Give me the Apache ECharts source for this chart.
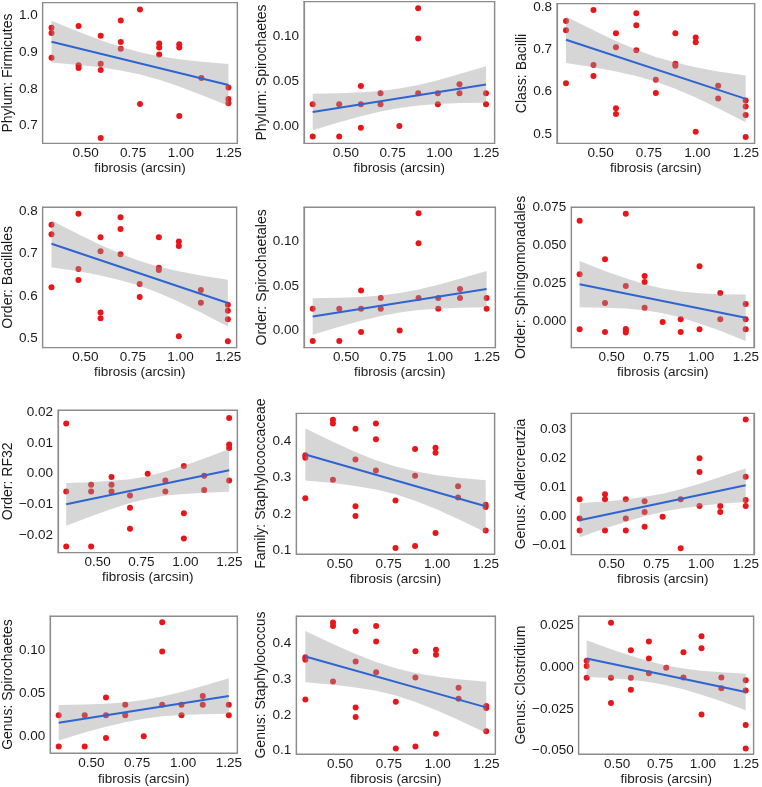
<!DOCTYPE html>
<html><head><meta charset="utf-8">
<script src="https://cdn.jsdelivr.net/npm/echarts@6/dist/echarts.min.js"></script>
<style>html,body{margin:0;padding:0;background:#fff}#c{width:762px;height:787px}</style>
</head><body><div id="c"></div>
<script>
// fibrosis (arcsin) levels shared by all panels (also where the band was read)
const fibrosisLevels = [0.3218, 0.4636, 0.5796, 0.6847, 0.7854, 0.8861, 0.9912, 1.1071, 1.2490];
const fitX = [0.3218, 1.2490];
const xTicks = [0.5, 0.75, 1.0, 1.25];

// ---- points, grouped by fibrosis level ----
const firmicutes = [[0.967,0.953,0.885],[0.972,0.865,0.857],[0.945,0.869,0.852,0.666],[0.987,0.928,0.910],[1.017,0.759],[0.924,0.913,0.894],[0.922,0.913,0.726],[0.830],[0.804,0.773,0.761]];
const spirochaetes = [[0.0243,-0.0119],[0.0243,-0.0119],[0.0448,0.0243,-0.0019],[0.0366,0.0243],[0.0],[0.132,0.0981,0.0366],[0.0366,0.0243],[0.0466,0.0366],[0.0366,0.0243]];
const bacilli = [[0.767,0.745,0.620],[0.793,0.663,0.637],[0.738,0.705,0.561,0.547],[0.785,0.757,0.698],[0.628,0.597],[0.738,0.666,0.661],[0.728,0.717,0.505],[0.614,0.584],[0.579,0.565,0.545,0.493]];
const sphingomonadales = [[0.0664,0.0310,-0.0053],[0.0409,0.0121,-0.0070],[0.0710,0.0233,-0.0051,-0.0062,-0.0073],[0.0299,0.0260,0.0090],[-0.0004],[0.0013,-0.0070],[0.0363,-0.0053],[0.0187,0.0013],[0.0114,0.0013,-0.0053]];
const rf32 = [[0.0164,-0.0058,-0.0238],[-0.0036,-0.0058,-0.0238],[-0.0011,-0.0036,-0.0058],[-0.0071,-0.0111,-0.0180],[0.0],[-0.0022,-0.0058],[0.0025,-0.0129,-0.0212],[-0.0007,-0.0053],[0.0182,0.0095,0.0084,-0.0022]];
const staphylococcus = [[0.362,0.355,0.243],[0.460,0.450,0.294],[0.435,0.350,0.221,0.194],[0.450,0.406,0.320],[0.237,0.1055],[0.379,0.305,0.111],[0.383,0.369,0.147],[0.276,0.245],[0.225,0.219,0.154]];
const adlercreutzia = [[0.0059,-0.0007,-0.0048],[0.0076,0.0059,-0.0048],[0.0059,-0.0007,-0.0048],[0.0052,0.0015,-0.0035],[-0.0001],[0.0059,-0.0109],[0.0199,0.0152,0.0036],[0.0036,0.0015],[0.0332,0.0136,0.0056,0.0036]];
const clostridium = [[0.0039,0.0008,-0.0063],[0.0267,-0.0063,-0.0214],[0.0102,-0.0063,-0.0134],[0.0155,0.0053,-0.0035],[-0.0002],[0.0090,-0.0061],[0.0187,0.0114,-0.0283],[-0.0061,-0.0126],[-0.0077,-0.0139,-0.0346,-0.0487]];

// ---- fitted line ends and band edges at each fibrosis level ----
const firmicutesFit = [0.929, 0.811];
const firmicutesUpper = [0.986, 0.9562, 0.9333, 0.9149, 0.9003, 0.8893, 0.8809, 0.8743, 0.868];
const firmicutesLower = [0.872, 0.8658, 0.8591, 0.8507, 0.8397, 0.8251, 0.8067, 0.7839, 0.754];
const spirochaetesFit = [0.0157, 0.0465];
const spirochaetesUpper = [0.0362, 0.0367, 0.0377, 0.0393, 0.0420, 0.0460, 0.0513, 0.0581, 0.0670];
const spirochaetesLower = [-0.0048, 0.0042, 0.0109, 0.0163, 0.0202, 0.0230, 0.0245, 0.0256, 0.0260];
const bacilliFit = [0.7225, 0.583];
const bacilliUpper = [0.7775, 0.7448, 0.7195, 0.6989, 0.6821, 0.6686, 0.6576, 0.6479, 0.638];
const bacilliLower = [0.6675, 0.6576, 0.6479, 0.6369, 0.6235, 0.6066, 0.5860, 0.5607, 0.528];
const sphingomonadalesFit = [0.0245, 0.0024];
const sphingomonadalesUpper = [0.0398, 0.0332, 0.0284, 0.0245, 0.0216, 0.0197, 0.0185, 0.0179, 0.0177];
const sphingomonadalesLower = [0.0092, 0.0090, 0.0084, 0.0073, 0.0054, 0.0025, -0.0015, -0.0063, -0.0129];
const rf32Fit = [-0.0100, 0.0011];
const rf32Upper = [-0.0030, -0.0028, -0.0023, -0.0018, -0.0008, 0.0007, 0.0026, 0.0050, 0.0081];
const rf32Lower = [-0.0170, -0.0139, -0.0115, -0.0096, -0.0082, -0.0071, -0.0066, -0.0062, -0.0059];
const staphylococcusFit = [0.364, 0.221];
const staphylococcusUpper = [0.436, 0.3992, 0.3711, 0.3485, 0.3308, 0.3175, 0.3077, 0.3000, 0.293];
const staphylococcusLower = [0.292, 0.2850, 0.2773, 0.2675, 0.2542, 0.2365, 0.2139, 0.1858, 0.149];
const adlercreutziaFit = [-0.0013, 0.0107];
const adlercreutziaUpper = [0.0045, 0.0051, 0.0058, 0.0067, 0.0078, 0.0093, 0.0112, 0.0135, 0.0165];
const adlercreutziaLower = [-0.0071, -0.0041, -0.0018, 0.0001, 0.0016, 0.0027, 0.0036, 0.0043, 0.0049];
const clostridiumFit = [0.0053, -0.0148];
const clostridiumUpper = [0.0163, 0.0109, 0.0069, 0.0036, 0.0011, -0.0007, -0.0020, -0.0030, -0.0038];
const clostridiumLower = [-0.0057, -0.0065, -0.0075, -0.0088, -0.0107, -0.0131, -0.0164, -0.0204, -0.0258];

// ---- y tick labels ----
const firmicutesTicks = [0.7, 0.8, 0.9, 1.0];
const spirochaetesTicks = [0.00, 0.05, 0.10];
const bacilliTicks = [0.5, 0.6, 0.7, 0.8];
const sphingomonadalesTicks = [0.000, 0.025, 0.050, 0.075];
const rf32Ticks = [-0.02, -0.01, 0.00, 0.01, 0.02];
const staphylococcusTicks = [0.1, 0.2, 0.3, 0.4];
const adlercreutziaTicks = [-0.01, 0.00, 0.01, 0.02, 0.03];
const clostridiumTicks = [-0.050, -0.025, 0.000, 0.025];

const sets = {
  firmicutes: [firmicutes, firmicutesFit, firmicutesUpper, firmicutesLower, firmicutesTicks, 1],
  spirochaetes: [spirochaetes, spirochaetesFit, spirochaetesUpper, spirochaetesLower, spirochaetesTicks, 2],
  bacilli: [bacilli, bacilliFit, bacilliUpper, bacilliLower, bacilliTicks, 1],
  sphingomonadales: [sphingomonadales, sphingomonadalesFit, sphingomonadalesUpper, sphingomonadalesLower, sphingomonadalesTicks, 3],
  rf32: [rf32, rf32Fit, rf32Upper, rf32Lower, rf32Ticks, 2],
  staphylococcus: [staphylococcus, staphylococcusFit, staphylococcusUpper, staphylococcusLower, staphylococcusTicks, 1],
  adlercreutzia: [adlercreutzia, adlercreutziaFit, adlercreutziaUpper, adlercreutziaLower, adlercreutziaTicks, 2],
  clostridium: [clostridium, clostridiumFit, clostridiumUpper, clostridiumLower, clostridiumTicks, 3]
};

// layout: [left, top, width, height], y range, y-name gap, x-name gap
const panels = [
  {t:'Phylum: Firmicutes', s:'firmicutes', g:[37.3,2.7,200,140.6], y:[0.6518,1.0355], yg:20, xg:17},
  {t:'Phylum: Spirochaetes', s:'spirochaetes', g:[304,1.7,190.7,141.6], y:[-0.0194,0.1392], yg:30, xg:16},
  {t:'Class: Bacilli', s:'bacilli', g:[557,1.7,197.7,141.6], y:[0.478,0.808], yg:25, xg:16},
  {t:'Order: Bacillales', s:'bacilli', g:[37.3,207,199.4,140.7], y:[0.478,0.809], yg:23, xg:16},
  {t:'Order: Spirochaetales', s:'spirochaetes', g:[304,207,191.3,140.7], y:[-0.0195,0.139], yg:31, xg:16},
  {t:'Order: Sphingomonadales', s:'sphingomonadales', g:[571.3,207,183.4,140.7], y:[-0.0174,0.0754], yg:38, xg:16},
  {t:'Order: RF32', s:'rf32', g:[52.7,410,184.6,142.7], y:[-0.0258,0.0208], yg:39, xg:16},
  {t:'Family: Staphylococcaceae', s:'staphylococcus', g:[296.3,413.3,198.4,140.7], y:[0.089,0.478], yg:23, xg:16},
  {t:'Genus: Adlercreutzia', s:'adlercreutzia', g:[571.3,413.3,183.4,141.4], y:[-0.0131,0.0353], yg:40, xg:16},
  {t:'Genus: Spirochaetes', s:'spirochaetes', g:[45.7,616,191.6,139.3], y:[-0.0194,0.1392], yg:32, xg:19},
  {t:'Genus: Staphylococcus', s:'staphylococcus', g:[296.3,616,199,140.7], y:[0.090,0.478], yg:23, xg:18},
  {t:'Genus: Clostridium', s:'clostridium', g:[578.7,616,176,140.7], y:[-0.052,0.0308], yg:45, xg:18}
];

const FONT = '"Liberation Sans", Arial, sans-serif';
const TXT = '#1a1a1a';
const FRAME = {show:true, onZero:false, lineStyle:{color:'#8c8c8c', width:1.2}};
const X_RANGE = [0.2754, 1.2954];
function fmt(v, d) {
  const s = Math.abs(v).toFixed(d);
  return (v < 0 && Number(s) !== 0) ? '\u2212' + s : s;
}

const option = {animation:false, backgroundColor:'#fff', grid:[], xAxis:[], yAxis:[], series:[]};
panels.forEach((p, i) => {
  const [pts, fit, up, lo, ticks, dig] = sets[p.s];
  option.grid.push({left:p.g[0], top:p.g[1], width:p.g[2], height:p.g[3], show:true,
    borderColor:'#8c8c8c', borderWidth:1.2, backgroundColor:'transparent'});
  option.xAxis.push({type:'value', gridIndex:i, position:'bottom', min:X_RANGE[0], max:X_RANGE[1],
    name:'fibrosis (arcsin)', nameLocation:'middle', nameGap:p.xg,
    nameTextStyle:{fontFamily:FONT, fontSize:13.5, color:TXT},
    axisLine:FRAME, axisTick:{show:false}, splitLine:{show:false},
    axisLabel:{customValues:xTicks, formatter:v=>fmt(v,2), margin:3, fontFamily:FONT, fontSize:13.5, color:TXT}});
  option.xAxis.push({type:'value', gridIndex:i, position:'top', min:X_RANGE[0], max:X_RANGE[1],
    axisLine:FRAME, axisTick:{show:false}, splitLine:{show:false}, axisLabel:{show:false}});
  option.yAxis.push({type:'value', gridIndex:i, position:'left', min:p.y[0], max:p.y[1],
    name:p.t, nameLocation:'middle', nameGap:p.yg,
    nameTextStyle:{fontFamily:FONT, fontSize:14, color:TXT},
    axisLine:FRAME, axisTick:{show:false}, splitLine:{show:false},
    axisLabel:{customValues:ticks, formatter:v=>fmt(v,dig), margin:5, fontFamily:FONT, fontSize:13.5, color:TXT}});
  option.yAxis.push({type:'value', gridIndex:i, position:'right', min:p.y[0], max:p.y[1],
    axisLine:FRAME, axisTick:{show:false}, splitLine:{show:false}, axisLabel:{show:false}});
  const xi = 2*i, yi = 2*i;
  const scatterData = [];
  pts.forEach((ys, k) => ys.forEach(y => scatterData.push([fibrosisLevels[k], y])));
  option.series.push({type:'scatter', xAxisIndex:xi, yAxisIndex:yi, data:scatterData,
    symbolSize:6, itemStyle:{color:'#e8161b', opacity:1}, z:2, silent:true});
  option.series.push({type:'custom', xAxisIndex:xi, yAxisIndex:yi, z:3, silent:true,
    data:fibrosisLevels.map((x,k)=>[x, lo[k], up[k]]),
    encode:{x:0, y:[1,2]},
    renderItem:(params, api) => {
      if (params.dataIndex !== 0) return null;
      const top = fibrosisLevels.map((x,k)=>api.coord([x, up[k]]));
      const bot = fibrosisLevels.map((x,k)=>api.coord([x, lo[k]])).reverse();
      return {type:'polygon', shape:{points: top.concat(bot)},
        style:{fill:'rgba(153,153,153,0.4)', stroke:null}};
    }});
  option.series.push({type:'line', xAxisIndex:xi, yAxisIndex:yi,
    data:fitX.map((x,k)=>[x, fit[k]]), symbol:'none',
    lineStyle:{color:'#2e64d2', width:2}, z:4, silent:true});
});

const chart = echarts.init(document.getElementById('c'), null, {renderer:'canvas'});
chart.setOption(option);
</script>
</body></html>
